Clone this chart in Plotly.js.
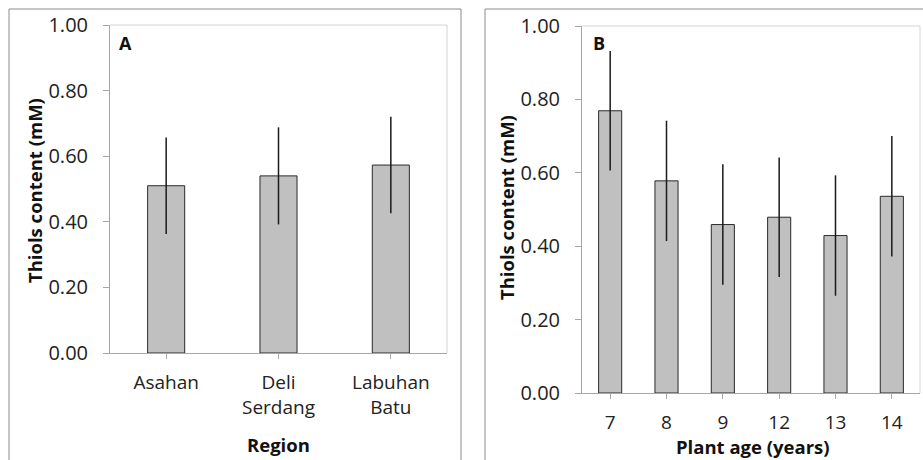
<!DOCTYPE html>
<html><head><meta charset="utf-8">
<script src="https://cdn.plot.ly/plotly-3.0.1.min.js"></script>
<style>html,body{margin:0;padding:0;background:#fff}</style>
</head><body><div id="chart" style="width:923px;height:460px"></div>
<script>
const regions = ['Asahan', 'Deli<br>Serdang', 'Labuhan<br>Batu'];
const regionThiols = [0.51, 0.54, 0.573];
const regionErr = [0.147, 0.148, 0.147];
const ages = ['7', '8', '9', '12', '13', '14'];
const ageThiols = [0.769, 0.578, 0.459, 0.479, 0.429, 0.536];
const ageErr = [0.163, 0.164, 0.164, 0.163, 0.164, 0.164];

const W = 923, H = 460;
const px = v => v / W, py = v => (H - v) / H;
const font = 'Open Sans, Lato, sans-serif';

const barStyle = {color: '#c0c0c0', line: {color: '#2a2a2a', width: 1}};
const errStyle = {thickness: 1.5, width: 0, color: '#1a1a1a'};

const traces = [
  {type: 'bar', x: regions, y: regionThiols, xaxis: 'x', yaxis: 'y', width: 0.33,
   marker: barStyle, error_y: Object.assign({type: 'data', array: regionErr, visible: true}, errStyle), showlegend: false},
  {type: 'bar', x: ages, y: ageThiols, xaxis: 'x2', yaxis: 'y2', width: 0.41,
   marker: barStyle, error_y: Object.assign({type: 'data', array: ageErr, visible: true}, errStyle), showlegend: false}
];

const yax = (dom, anchor) => ({
  domain: dom, anchor: anchor, range: [0, 1], tickvals: [0, 0.2, 0.4, 0.6, 0.8, 1.0],
  ticktext: ['0.00', '0.20', '0.40', '0.60', '0.80', '1.00'],
  showgrid: false, zeroline: false, showline: true, linecolor: '#a6a6a6', linewidth: 1,
  ticks: 'outside', ticklen: 6, tickcolor: '#a6a6a6', ticklabelstandoff: 11,
  tickfont: {family: font, size: 20, color: '#222'}, automargin: false, fixedrange: true
});
const xax = (dom, anchor) => ({
  domain: dom, anchor: anchor, type: 'category',
  showgrid: false, zeroline: false, showline: true, linecolor: '#a6a6a6', linewidth: 1,
  ticks: 'outside', ticklen: 5, tickcolor: '#a6a6a6', ticklabelstandoff: 7,
  tickfont: {family: font, size: 19, color: '#222'}, automargin: false, fixedrange: true
});

const ann = (text, x, y, size, angle) => ({
  text: text, xref: 'paper', yref: 'paper', x: px(x), y: py(y), xanchor: 'center', yanchor: 'middle',
  textangle: angle || 0, showarrow: false, font: {family: font, size: size, color: '#111'}
});

const layout = {
  width: W, height: H, margin: {l: 0, r: 0, t: 0, b: 0},
  paper_bgcolor: '#fff', plot_bgcolor: '#fff', showlegend: false,
  xaxis: xax([px(110), px(447)], 'y'),
  yaxis: yax([py(353), py(25)], 'x'),
  xaxis2: xax([px(582), px(920)], 'y2'),
  yaxis2: yax([py(393), py(26)], 'x2'),
  shapes: [
    {type: 'rect', xref: 'paper', yref: 'paper', x0: px(9), x1: px(461), y0: -0.1, y1: py(9), line: {color: '#8c8c8c', width: 1}},
    {type: 'rect', xref: 'paper', yref: 'paper', x0: px(485), x1: 1.1, y0: -0.1, y1: py(9), line: {color: '#8c8c8c', width: 1}},
    {type: 'line', xref: 'x domain', yref: 'y domain', x0: 0, x1: 1, y0: 1, y1: 1, line: {color: '#d4d4d4', width: 1}},
    {type: 'line', xref: 'x domain', yref: 'y domain', x0: 1, x1: 1, y0: 0, y1: 1, line: {color: '#d4d4d4', width: 1}},
    {type: 'line', xref: 'x2 domain', yref: 'y2 domain', x0: 0, x1: 1, y0: 1, y1: 1, line: {color: '#d4d4d4', width: 1}},
    {type: 'line', xref: 'x2 domain', yref: 'y2 domain', x0: 1, x1: 1, y0: 0, y1: 1, line: {color: '#d4d4d4', width: 1}}
  ],
  annotations: [
    ann('<b>A</b>', 125, 43, 18),
    ann('<b>B</b>', 599, 43, 18),
    ann('<b>Thiols content (mM)</b>', 34, 191, 18.5, -90),
    ann('<b>Thiols content (mM)</b>', 506, 208, 18.5, -90),
    ann('<b>Region</b>', 278, 444, 18.5),
    ann('<b>Plant age (years)</b>', 753, 446, 18.5)
  ]
};

Plotly.newPlot('chart', traces, layout, {staticPlot: true, displayModeBar: false});
</script></body></html>
